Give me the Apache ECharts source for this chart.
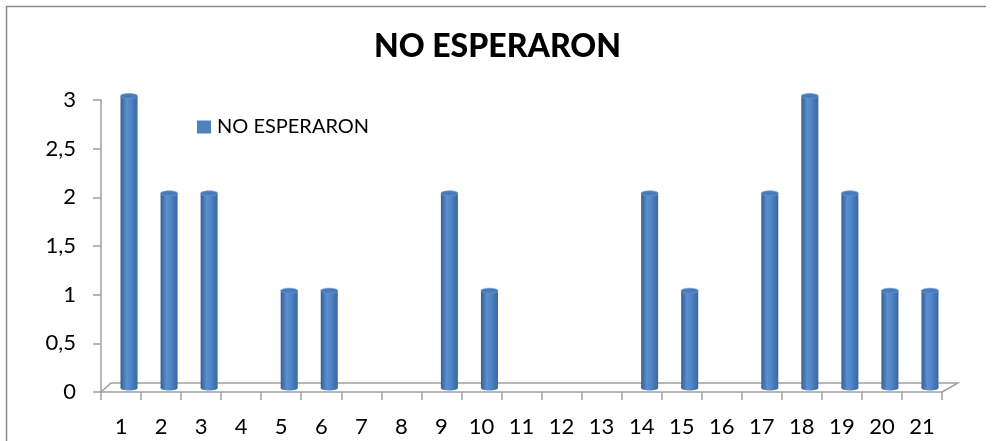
<!DOCTYPE html>
<html>
<head>
<meta charset="utf-8">
<script src="https://cdn.jsdelivr.net/npm/echarts@6/dist/echarts.min.js"></script>
<style>
html,body{margin:0;padding:0;background:#fff;}
#chart{width:995px;height:441px;}
</style>
</head>
<body>
<div id="chart"></div>
<script>
// Respondents per group who did not wait
const categories = ['1','2','3','4','5','6','7','8','9','10','11','12','13','14','15','16','17','18','19','20','21'];
const noEsperaron = [3,2,2,0,1,1,0,0,2,1,0,0,0,2,1,0,2,3,2,1,1];
const seriesName = 'NO ESPERARON';
const yTicks = [0, 0.5, 1, 1.5, 2, 2.5, 3];

const FONT = 'Lato, "Open Sans", sans-serif';
const chart = echarts.init(document.getElementById('chart'));

// depth shift of the 3D look
const DX = 8, DY = -4, BAR_W = 17, CAP_H = 5;

function cylinder(params, api) {
  const v = api.value(1);
  if (!v) return null;
  const top = api.coord([api.value(0), v]);
  const bot = api.coord([api.value(0), 0]);
  const cx = top[0] + DX;
  const x = cx - BAR_W / 2;
  const yTop = top[1] + DY;
  const yBot = bot[1] + DY;
  const body = new echarts.graphic.LinearGradient(0, 0, 1, 0, [
    {offset: 0, color: '#365f91'},
    {offset: 0.35, color: '#5a8fd1'},
    {offset: 0.55, color: '#5288ca'},
    {offset: 1, color: '#3a67a0'}
  ]);
  return {
    type: 'group',
    children: [
      {type: 'rect', shape: {x: x, y: yTop, width: BAR_W, height: yBot - yTop}, style: {fill: body}},
      {type: 'ellipse', shape: {cx: cx, cy: yBot, rx: BAR_W / 2, ry: CAP_H / 2}, style: {fill: body}},
      {type: 'ellipse', shape: {cx: cx, cy: yTop, rx: BAR_W / 2, ry: CAP_H / 2}, style: {fill: '#4a7ab8', stroke: '#6f9bd6', lineWidth: 0.6}}
    ]
  };
}

chart.setOption({
  animation: false,
  title: {
    text: seriesName,
    left: 'center',
    top: 31,
    padding: 0,
    textStyle: {fontFamily: FONT, fontWeight: 900, fontSize: 32, color: '#000'}
  },
  legend: {
    data: [{name: seriesName, icon: 'rect'}],
    left: 192,
    top: 112,
    itemWidth: 14,
    itemHeight: 13,
    itemGap: 4,
    textStyle: {fontFamily: FONT, fontSize: 20, color: '#000', padding: [0, 0, 0, 1]}
  },
  grid: {left: 101, right: 53, top: 100, bottom: 49, containLabel: false},
  xAxis: {
    type: 'category',
    data: categories,
    boundaryGap: true,
    axisLine: {show: true, lineStyle: {color: '#a0a0a0', width: 1.5}},
    axisTick: {show: true, length: 8, lineStyle: {color: '#a0a0a0', width: 1.5}},
    axisLabel: {fontFamily: FONT, fontSize: 22, color: '#000', margin: 24}
  },
  yAxis: {
    type: 'value',
    min: yTicks[0],
    max: yTicks[yTicks.length - 1],
    interval: 0.5,
    splitLine: {show: false},
    axisLine: {show: true, lineStyle: {color: '#a0a0a0', width: 1.5}},
    axisTick: {show: true, length: 8, lineStyle: {color: '#a0a0a0', width: 1.5}},
    axisLabel: {
      fontFamily: FONT, fontSize: 22, color: '#000', margin: 25,
      formatter: v => String(v).replace('.', ',')
    }
  },
  series: [{
    name: seriesName,
    type: 'custom',
    renderItem: cylinder,
    itemStyle: {color: '#4f81bd'},
    encode: {x: 0, y: 1},
    data: noEsperaron.map((v, i) => [i, v]),
    z: 3
  }]
});

// floor plane and chart frame
const p0 = chart.convertToPixel({xAxisIndex: 0, yAxisIndex: 0}, [0, 0]);
const p1 = chart.convertToPixel({xAxisIndex: 0, yAxisIndex: 0}, [categories.length - 1, 0]);
const half = chart.getModel().getComponent('xAxis', 0).axis.getBandWidth() / 2;
const fl = p0[0] - half, fr = p1[0] + half, fy = p0[1];
const FD = 10, FH = 9;
chart.setOption({
  graphic: [
    {type: 'polyline', z: 1, shape: {points: [[fl, fy], [fl + FD, fy - FH], [fr + FD * 1.6, fy - FH], [fr, fy]]},
     style: {stroke: '#a0a0a0', lineWidth: 1.5, fill: null}},
    {type: 'polyline', z: 1, shape: {points: [[6.5, 441], [6.5, 6.5], [986, 6.5]]},
     style: {stroke: '#8c8c8c', lineWidth: 1.5, fill: null}}
  ]
});
</script>
</body>
</html>
